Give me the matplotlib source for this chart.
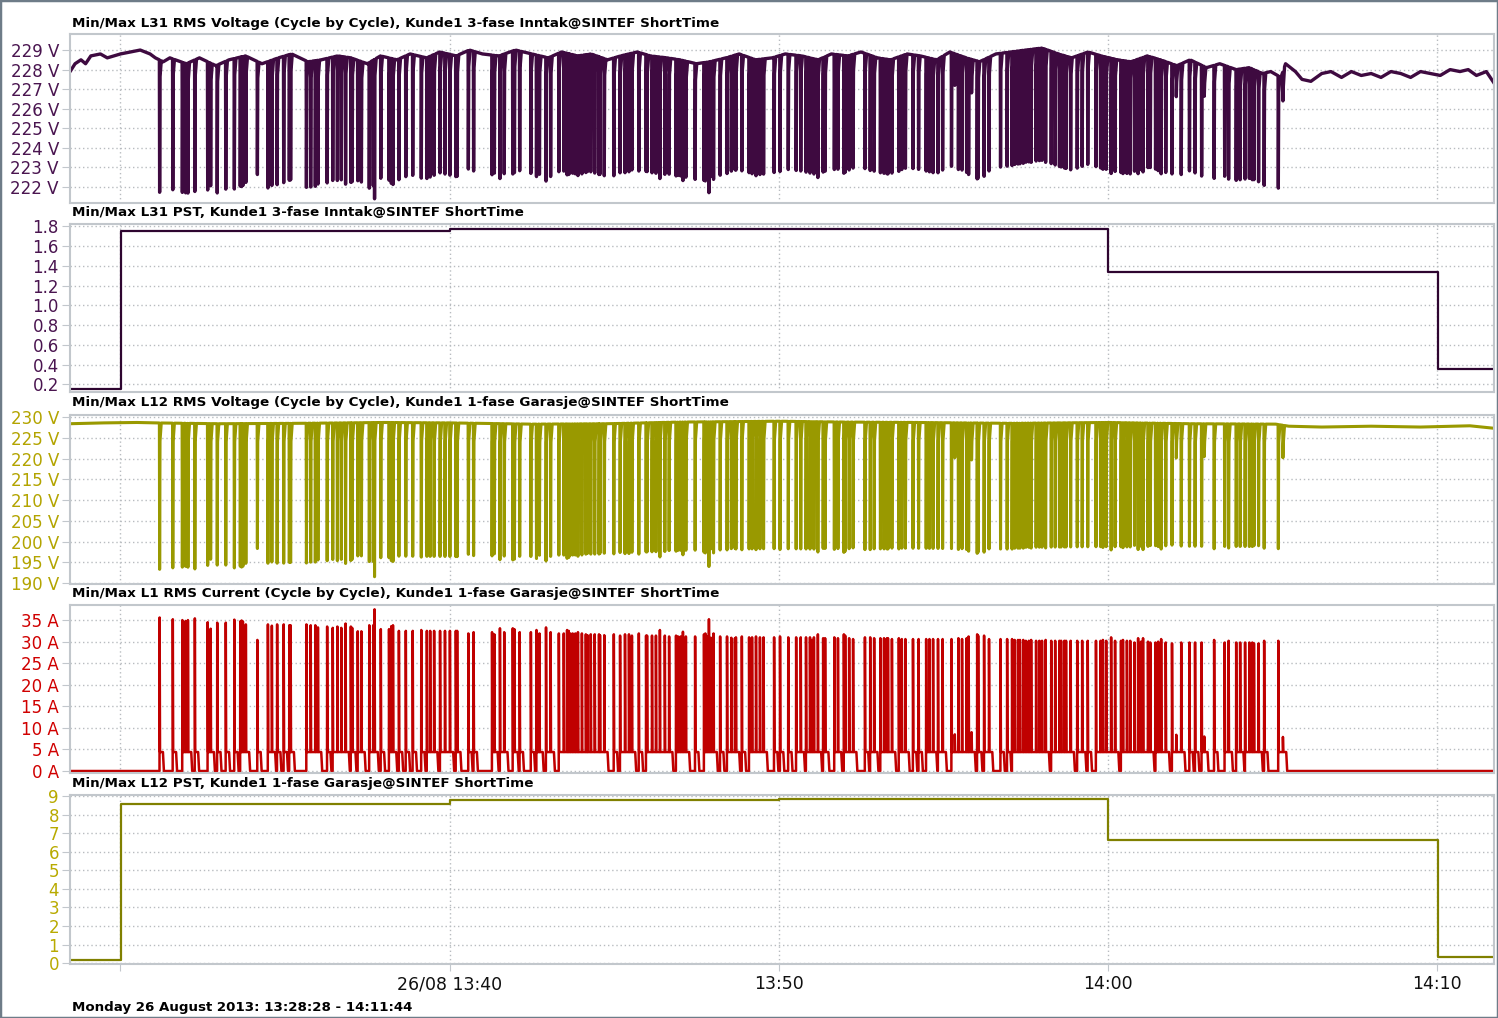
import numpy as np
import matplotlib.pyplot as plt
from matplotlib.patches import Rectangle

# time in minutes after 13:00, Monday 26 August 2013
t_start = 28 + 28 / 60.0   # 13:28:28
t_end = 71 + 44 / 60.0     # 14:11:44

# load switching events: time and peak current
event_min = [
    31.19, 31.59, 31.88, 31.98, 32.05, 32.26, 32.65, 32.74, 32.94, 33.20,
    33.46, 33.64, 33.68, 33.72, 33.81, 34.16, 34.48, 34.60, 34.76, 34.96,
    35.13, 35.17, 35.65, 35.78, 35.92, 36.00, 36.28, 36.45, 36.59, 36.71,
    36.84, 37.00, 37.04, 37.21, 37.32, 37.56, 37.68, 37.72, 37.91, 38.16,
    38.23, 38.28, 38.46, 38.67, 38.88, 39.14, 39.31, 39.41, 39.53, 39.71,
    39.86, 40.01, 40.19, 40.23, 40.57, 40.73, 41.29, 41.36, 41.53, 41.66,
    41.92, 41.97, 42.13, 42.47, 42.64, 42.73, 42.93, 43.07, 43.32, 43.47,
    43.57, 43.62, 43.67, 43.74, 43.82, 43.90, 44.02, 44.14, 44.19, 44.29,
    44.41, 44.54, 44.57, 44.70, 44.99, 45.18, 45.33, 45.45, 45.54, 45.75,
    45.97, 46.00, 46.15, 46.27, 46.39, 46.54, 46.67, 46.88, 46.94, 47.02,
    47.09, 47.18, 47.46, 47.73, 47.77, 47.82, 47.88, 47.94, 48.02, 48.22,
    48.43, 48.56, 48.67, 48.70, 48.88, 49.10, 49.19, 49.31, 49.43, 49.54,
    49.86, 50.04, 50.29, 50.53, 50.67, 50.83, 50.95, 51.01, 51.07, 51.19,
    51.35, 51.41, 51.69, 51.80, 51.98, 52.02, 52.14, 52.26, 52.62, 52.78,
    52.90, 53.09, 53.20, 53.29, 53.32, 53.44, 53.65, 53.74, 53.85, 54.08,
    54.25, 54.48, 54.58, 54.69, 54.84, 54.98, 55.25, 55.35, 55.46, 55.57,
    55.71, 55.77, 55.86, 56.03, 56.06, 56.24, 56.39, 56.74, 56.94, 57.09,
    57.17, 57.27, 57.33, 57.43, 57.51, 57.60, 57.67, 57.82, 57.92, 58.00,
    58.11, 58.28, 58.40, 58.53, 58.58, 58.68, 58.73, 58.87, 59.07, 59.22,
    59.39, 59.64, 59.78, 59.85, 59.95, 60.10, 60.22, 60.40, 60.46, 60.58,
    60.68, 60.81, 60.92, 61.01, 61.07, 61.22, 61.29, 61.45, 61.53, 61.62,
    61.76, 61.95, 62.08, 62.23, 62.48, 62.65, 62.85, 62.93, 63.23, 63.55,
    63.67, 63.90, 64.02, 64.17, 64.30, 64.39, 64.44, 64.58, 64.75, 65.18,
    65.32,
]
event_amp = [
    35.6, 35.2, 35.0, 34.8, 35.0, 35.4, 34.5, 33.0, 34.4, 34.4,
    35.1, 34.7, 34.9, 34.7, 34.0, 30.4, 34.0, 33.7, 34.0, 34.0,
    33.8, 33.8, 34.0, 33.8, 33.8, 33.3, 33.5, 33.2, 33.5, 33.2,
    34.2, 33.5, 33.2, 32.4, 32.4, 33.8, 33.8, 37.5, 32.9, 32.9,
    33.6, 33.8, 32.5, 32.5, 32.5, 32.7, 32.5, 32.5, 32.5, 32.5,
    32.5, 32.5, 32.5, 32.5, 31.9, 32.2, 32.2, 31.7, 33.1, 32.2,
    33.1, 32.9, 32.2, 32.2, 32.7, 31.9, 33.3, 32.2, 31.9, 31.9,
    32.7, 32.5, 31.9, 31.9, 31.9, 32.2, 31.9, 31.7, 31.5, 31.7,
    31.7, 31.7, 31.5, 31.5, 31.7, 31.4, 31.7, 31.7, 31.4, 31.9,
    31.4, 31.4, 31.4, 31.4, 32.7, 31.4, 31.2, 31.4, 31.2, 31.2,
    32.3, 31.2, 31.2, 31.7, 31.9, 31.2, 35.2, 30.9, 31.9, 31.2,
    31.2, 30.9, 30.8, 31.0, 31.2, 31.0, 31.0, 31.2, 31.0, 31.0,
    31.0, 31.2, 31.0, 31.0, 31.0, 31.0, 31.0, 30.4, 31.0, 31.7,
    30.8, 30.8, 31.0, 30.8, 31.7, 31.4, 30.8, 30.6, 31.0, 31.0,
    30.8, 30.8, 30.8, 30.8, 30.8, 30.6, 30.8, 30.6, 30.6, 30.6,
    30.6, 30.6, 30.6, 30.6, 30.6, 30.6, 30.6, 8.5, 30.8, 30.6,
    30.8, 31.2, 9.0, 31.7, 31.4, 31.4, 30.6, 30.6, 30.6, 30.6,
    30.4, 30.4, 30.4, 30.4, 30.2, 30.2, 30.4, 30.2, 30.2, 30.2,
    30.4, 30.2, 30.2, 30.2, 30.2, 30.2, 30.2, 30.2, 30.2, 30.2,
    30.2, 30.2, 30.2, 30.4, 30.2, 31.0, 30.2, 30.2, 30.4, 30.2,
    30.2, 29.8, 30.8, 30.0, 30.8, 30.0, 29.8, 29.8, 30.0, 30.6,
    29.8, 29.6, 8.4, 29.8, 29.8, 29.8, 29.8, 8.0, 30.4, 29.8,
    30.2, 29.8, 29.8, 29.8, 29.8, 29.8, 29.6, 29.6, 30.2, 30.2,
    7.9,
]
shoulder_amp = 4.4     # current level held just after each spike
shoulder_min = 0.10    # how long that level is held

# undisturbed voltage level of the two voltage panels
base31_min = [28.47, 28.62, 28.80, 28.94, 29.10, 29.39, 29.60, 30.0, 30.3, 30.6,
              30.9, 31.06, 31.3, 31.5, 32.0, 32.4, 32.9, 33.3, 33.8, 34.3,
              34.8, 35.2, 35.7, 36.1, 36.6, 37.0, 37.5, 37.9, 38.4, 38.8,
              39.3, 39.7, 40.2, 40.6, 41.0, 41.5, 42.0, 42.5, 43.0, 43.4,
              43.9, 44.3, 44.8, 45.2, 45.7, 46.1, 46.6, 47.0, 47.5, 47.9,
              48.4, 48.8, 49.3, 49.8, 50.2, 50.7, 51.2, 51.6, 52.1, 52.5,
              53.0, 53.4, 53.9, 54.3, 54.8, 55.2, 55.7, 56.1, 56.6, 57.05,
              57.5, 58.0, 58.5, 58.9, 59.4, 59.8, 60.3, 60.7, 61.2, 61.6,
              62.1, 62.5, 63.0, 63.4, 63.9, 64.3, 64.7, 64.95, 65.26, 65.4,
              65.55, 65.7, 65.9, 66.17, 66.5, 66.78, 67.1, 67.4, 67.7, 68.0,
              68.3, 68.6, 68.9, 69.2, 69.5, 69.8, 70.1, 70.4, 70.7, 70.95,
              71.2, 71.5, 71.74]
base31_volt = [227.9, 228.3, 228.5, 228.3, 228.7, 228.8, 228.6, 228.8, 228.9, 229.0,
               228.8, 228.6, 228.4, 228.6, 228.3, 228.6, 228.2, 228.5, 228.7, 228.3,
               228.6, 228.8, 228.4, 228.5, 228.7, 228.6, 228.3, 228.7, 228.5, 228.8,
               228.6, 228.9, 228.7, 229.0, 228.8, 228.7, 229.0, 228.8, 228.6, 228.9,
               228.7, 228.8, 228.5, 228.7, 228.9, 228.7, 228.6, 228.5, 228.3, 228.4,
               228.6, 228.8, 228.5, 228.6, 228.8, 228.7, 228.5, 228.8, 228.7, 228.9,
               228.6, 228.5, 228.8, 228.7, 228.5, 228.9, 228.6, 228.4, 228.8, 228.9,
               229.0, 229.1, 228.8, 228.6, 228.9, 228.7, 228.5, 228.4, 228.7, 228.5,
               228.2, 228.5, 228.1, 228.3, 228.0, 228.1, 227.8, 227.9, 227.6, 228.3,
               228.1, 227.9, 227.5, 227.4, 227.8, 227.9, 227.6, 227.9, 227.7, 227.8,
               227.6, 227.9, 227.8, 227.6, 227.9, 227.8, 227.7, 228.0, 227.9, 228.0,
               227.7, 227.9, 227.3]
base12_min = [28.47, 29.5, 30.5, 31.0, 33.0, 35.5, 38.0, 40.0, 42.5, 44.8,
              47.0, 50.0, 52.0, 54.2, 57.0, 60.0, 62.5, 65.1, 65.5, 66.5,
              68.0, 69.5, 71.0, 71.74]
base12_volt = [228.4, 228.6, 228.7, 228.6, 228.4, 228.5, 228.7, 228.6, 228.3, 228.4,
               228.8, 229.0, 228.8, 228.7, 228.5, 228.7, 228.4, 228.3, 227.8, 227.6,
               227.8, 227.6, 227.9, 227.3]
drop31_per_amp = 0.19   # volts lost per amp on L31 (dip depth / current)
drop12_per_amp = 0.99   # volts lost per amp on L12

# short-term flicker (PST) steps
pst31_min = [t_start, 30.03, 40.02, 60.02, 70.02, t_end]
pst31_val = [0.15, 1.755, 1.77, 1.34, 0.36, 0.36]
pst12_min = [t_start, 30.03, 40.02, 50.02, 60.02, 70.02, t_end]
pst12_val = [0.14, 8.57, 8.78, 8.86, 6.63, 0.35, 0.35]

titles = [
    'Min/Max L31 RMS Voltage (Cycle by Cycle), Kunde1 3-fase Inntak@SINTEF ShortTime',
    'Min/Max L31 PST, Kunde1 3-fase Inntak@SINTEF ShortTime',
    'Min/Max L12 RMS Voltage (Cycle by Cycle), Kunde1 1-fase Garasje@SINTEF ShortTime',
    'Min/Max L1 RMS Current (Cycle by Cycle), Kunde1 1-fase Garasje@SINTEF ShortTime',
    'Min/Max L12 PST, Kunde1 1-fase Garasje@SINTEF ShortTime',
]
x_ticks = [30, 40, 50, 60, 70]
x_labels = ['', '26/08 13:40', '13:50', '14:00', '14:10']


def build_current():
    t = [t_start]
    a = [0.0]
    for i in range(len(event_min)):
        te = event_min[i]
        nxt = event_min[i + 1] if i + 1 < len(event_min) else t_end
        t += [te - 0.004, te, te + 0.012]
        a += [a[-1], event_amp[i], shoulder_amp]
        if nxt - te > shoulder_min + 0.05:
            t += [te + shoulder_min, te + shoulder_min + 0.03]
            a += [shoulder_amp, 0.0]
    t.append(t_end)
    a.append(0.0)
    return np.array(t), np.array(a)


def build_voltage(base_min, base_volt, drop):
    # dips below the undisturbed level, one per event
    dt = [t_start]
    dv = [0.0]
    for i in range(len(event_min)):
        te = event_min[i]
        nxt = event_min[i + 1] if i + 1 < len(event_min) else t_end
        dt += [te - 0.008, te, te + 0.012]
        dv += [0.0, -drop * event_amp[i], -drop * shoulder_amp]
        if nxt - te > 0.07:
            dt.append(te + 0.05)
            dv.append(0.0)
    dt.append(t_end)
    dv.append(0.0)
    t_all = np.union1d(dt, base_min)
    v = np.interp(t_all, base_min, base_volt) + np.interp(t_all, dt, dv)
    return t_all, v


def style_axes(ax, ylim, yticks, ylabels, color, show_x=False):
    ax.set_xlim(t_start, t_end)
    ax.set_ylim(*ylim)
    ax.set_yticks(yticks)
    ax.set_yticklabels(ylabels)
    ax.set_xticks(x_ticks)
    ax.grid(True, color='#b8bcc0', linestyle=(0, (1, 2)), linewidth=1.0)
    ax.set_axisbelow(True)
    for sp in ax.spines.values():
        sp.set_color('#c2c7cc')
        sp.set_linewidth(1.5)
    ax.tick_params(axis='y', length=6, color='#c2c7cc', pad=2,
                   labelsize=12, labelcolor=color)
    if show_x:
        ax.set_xticklabels(x_labels)
        ax.tick_params(axis='x', length=5, color='#c2c7cc', pad=3,
                       labelsize=12.5, labelcolor='#101010')
    else:
        ax.tick_params(axis='x', length=0, labelbottom=False)


t, amps = build_current()
t31, v31 = build_voltage(base31_min, base31_volt, drop31_per_amp)
t12, v12 = build_voltage(base12_min, base12_volt, drop12_per_amp)

W, H = 1498, 1018
plt.rcParams['font.family'] = ['DejaVu Sans']
fig = plt.figure(figsize=(W / 100, H / 100), dpi=100)

# panel top/bottom in pixels
rows = [(34, 203), (224, 392), (415, 584), (605, 773), (795, 964)]
title_y = [23, 213, 403, 594, 784]
axes = []
for top, bot in rows:
    axes.append(fig.add_axes([70 / W, 1 - bot / H, 1424 / W, (bot - top) / H]))

ax = axes[0]
ax.plot(t31, v31, color='#3e0a40', linewidth=2.4)
style_axes(ax, (221.18, 229.82), range(222, 230),
           ['%d V' % v for v in range(222, 230)], '#4a1550')

ax = axes[1]
ax.step(pst31_min, pst31_val, where='post', color='#2e0530', linewidth=1.6)
pticks = np.arange(0.2, 1.81, 0.2)
style_axes(ax, (0.123, 1.824), pticks, ['%.1f' % v for v in pticks], '#4a1550')

ax = axes[2]
ax.plot(t12, v12, color='#999900', linewidth=2.2)
style_axes(ax, (189.8, 230.5), range(190, 231, 5),
           ['%d V' % v for v in range(190, 231, 5)], '#b3a400')

ax = axes[3]
ax.plot(t, amps, color='#c00000', linewidth=1.8)
style_axes(ax, (-0.46, 38.5), range(0, 36, 5),
           ['%d A' % v for v in range(0, 36, 5)], '#d00000')

ax = axes[4]
ax.step(pst12_min, pst12_val, where='post', color='#808000', linewidth=1.6)
style_axes(ax, (-0.05, 9.07), range(0, 10), [str(v) for v in range(0, 10)],
           '#b8aa00', show_x=True)

for title, ty in zip(titles, title_y):
    fig.text(72 / W, 1 - ty / H, title, fontsize=9.7, fontweight='bold',
             va='center', ha='left', color='#000000')

fig.text(72 / W, 1 - 1008 / H, 'Monday 26 August 2013: 13:28:28 - 14:11:44',
         fontsize=9.6, fontweight='bold', va='center', ha='left')

fig.add_artist(Rectangle((0, 0), 1, 1, transform=fig.transFigure, fill=False,
                         edgecolor='#6e7c88', linewidth=2.5))

fig.savefig('out.png', dpi=100)
